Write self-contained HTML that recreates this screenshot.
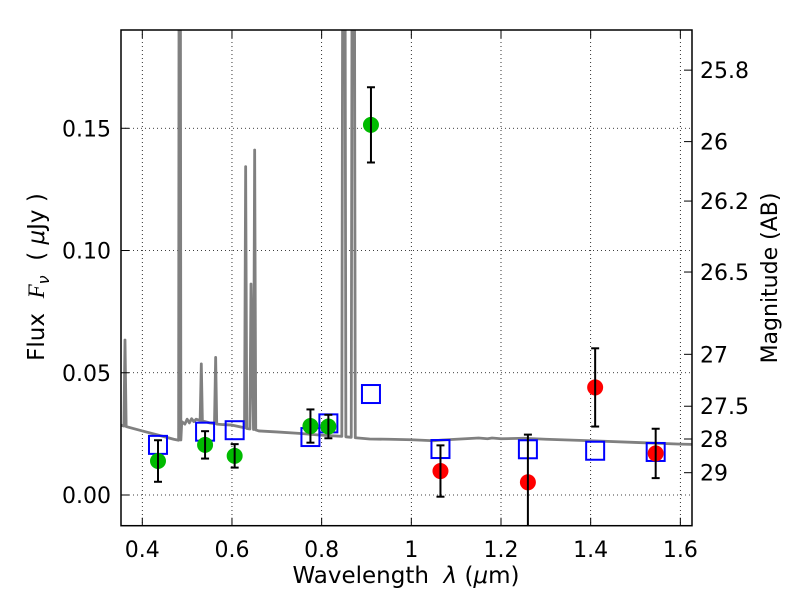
<!DOCTYPE html>
<html><head><meta charset="utf-8"><style>
body{margin:0;background:#fff;}
svg{display:block;font-family:"DejaVu Sans","Liberation Sans",sans-serif;}
</style></head><body>
<svg id="chart" width="800" height="600" viewBox="0 0 800 600" xmlns="http://www.w3.org/2000/svg"></svg>
<script>
// data
const specWave = [0.352,0.359,0.3614,0.364,0.40,0.44,0.47,0.481,0.4834,0.486,0.488,0.495,0.50,0.505,0.51,0.515,0.52,0.529,0.5316,0.534,0.54,0.55,0.561,0.5636,0.566,0.58,0.60,0.628,0.6305,0.633,0.64,0.6424,0.648,0.6506,0.653,0.66,0.70,0.75,0.797,0.845,0.8497,0.854,0.866,0.8705,0.875,0.907,0.95,1.0,1.05,1.07,1.1,1.15,1.17,1.18,1.2,1.25,1.3,1.4,1.5,1.6,1.625];
const specFlux = [0.0286,0.0282,0.0634,0.0280,0.0262,0.0243,0.0228,0.0224,0.5,0.0225,0.0300,0.0290,0.0310,0.0295,0.0312,0.0300,0.0310,0.0305,0.0536,0.0302,0.0300,0.0295,0.0292,0.0563,0.0290,0.0288,0.0286,0.0275,0.1343,0.0272,0.0270,0.0863,0.0268,0.1411,0.0266,0.0262,0.0258,0.0252,0.0245,0.0240,0.5,0.0238,0.0236,0.5,0.0234,0.0229,0.0228,0.0226,0.0222,0.0225,0.0228,0.0233,0.0230,0.0233,0.0230,0.0232,0.0228,0.0222,0.0215,0.0208,0.0207];
const greenWave = [0.435,0.540,0.606,0.775,0.815,0.910];
const greenFlux = [0.0139,0.0205,0.0160,0.0282,0.0280,0.1514];
const greenErr  = [0.0085,0.0056,0.0048,0.0068,0.0048,0.0154];
const redWave = [1.065,1.26,1.41,1.545];
const redFlux = [0.0098,0.0052,0.0440,0.0170];
const redErr  = [0.0105,0.0195,0.0160,0.0101];
const boxWave = [0.435,0.540,0.606,0.775,0.815,0.910,1.065,1.26,1.41,1.545];
const boxFlux = [0.0205,0.0259,0.0265,0.0237,0.0293,0.0413,0.0188,0.0187,0.0181,0.0176];
const xTicks = [0.4,0.6,0.8,1.0,1.2,1.4,1.6];
const xTickLabels = ["0.4","0.6","0.8","1","1.2","1.4","1.6"];
const yTicks = [0,0.05,0.10,0.15];
const yTickLabels = ["0.00","0.05","0.10","0.15"];
const magTicks = [25.8,26,26.2,26.5,27,27.5,28,29];
const magTickLabels = ["25.8","26","26.2","26.5","27","27.5","28","29"];

const L=121,R=692,T=30,B=525.7;
const X0=0.3525,X1=1.626,Y0=-0.01256,Y1=0.1902;
const sx=v=>L+(v-X0)/(X1-X0)*(R-L);
const sy=v=>B-(v-Y0)/(Y1-Y0)*(B-T);
const NS="http://www.w3.org/2000/svg";
const svg=document.getElementById('chart');
function mk(tag,attrs,parent){const e=document.createElementNS(NS,tag);for(const k in attrs)e.setAttribute(k,attrs[k]);(parent||svg).appendChild(e);return e;}

const defs=mk('defs',{});
const cp=mk('clipPath',{id:'clip'},defs);
mk('rect',{x:L,y:T,width:R-L,height:B-T},cp);

const grid=mk('g',{});


xTicks.forEach(v=>{mk('line',{x1:sx(v),x2:sx(v),y1:T,y2:B,stroke:'#000','stroke-width':0.8,'stroke-dasharray':'1,3'},grid);});
yTicks.forEach(v=>{mk('line',{x1:L,x2:R,y1:sy(v),y2:sy(v),stroke:'#000','stroke-width':0.8,'stroke-dasharray':'1,3'},grid);});

const plot=mk('g',{'clip-path':'url(#clip)'});
const sp=mk('polyline',{points:specWave.map((w,i)=>sx(w)+','+sy(specFlux[i])).join(' '),fill:'none',stroke:'#808080','stroke-width':2.8,'stroke-linejoin':'round'},plot);



boxWave.forEach((w,i)=>{
  const r=mk('rect',{x:sx(w)-9,y:sy(boxFlux[i])-9,width:18,height:18,fill:'none',stroke:'#0000ff','stroke-width':2},plot);
  
  
});
function pts(ws,fs,es,color,name){
  ws.forEach((w,i)=>{
    const g=mk('g',{},plot);
    
    
    const x=sx(w),ya=sy(fs[i]+es[i]),yb=sy(fs[i]-es[i]);
    mk('circle',{cx:x,cy:sy(fs[i]),r:8,fill:color},g);
    mk('line',{x1:x,x2:x,y1:ya,y2:yb,stroke:'#000','stroke-width':2},g);
    mk('line',{x1:x-4,x2:x+4,y1:ya,y2:ya,stroke:'#000','stroke-width':2},g);
    mk('line',{x1:x-4,x2:x+4,y1:yb,y2:yb,stroke:'#000','stroke-width':2},g);
  });
}
pts(greenWave,greenFlux,greenErr,'#00bb00','hst-data-point');
pts(redWave,redFlux,redErr,'#ff0000','ir-data-point');

const fr=mk('rect',{x:L,y:T,width:R-L,height:B-T,fill:'none',stroke:'#000','stroke-width':1.5});



xTicks.forEach((v,i)=>{
  const x=sx(v);
  mk('line',{x1:x,x2:x,y1:B,y2:B-8,stroke:'#000','stroke-width':1});
  mk('line',{x1:x,x2:x,y1:T,y2:T+8,stroke:'#000','stroke-width':1});
  const t=mk('text',{x:x,y:557,'text-anchor':'middle','font-size':22});
  t.textContent=xTickLabels[i];
  
  
});
yTicks.forEach((v,i)=>{
  const y=sy(v);
  mk('line',{x1:L,x2:L+8,y1:y,y2:y,stroke:'#000','stroke-width':1});
  const t=mk('text',{x:111,y:y+8,'text-anchor':'end','font-size':22});
  t.textContent=yTickLabels[i];
  
  
});
magTicks.forEach((m,i)=>{
  const y=sy(Math.pow(10,(23.9-m)/2.5));
  mk('line',{x1:R-8,x2:R,y1:y,y2:y,stroke:'#000','stroke-width':1});
  const t=mk('text',{x:700,y:y+8,'text-anchor':'start','font-size':22});
  t.textContent=magTickLabels[i];
  
  
});
</script>
<svg style="position:absolute;left:0;top:0" width="800" height="600" xmlns="http://www.w3.org/2000/svg" font-family="DejaVu Sans, Liberation Sans, sans-serif">
<text x="406" y="583" text-anchor="middle" font-size="23">Wavelength&#160;&#160;<tspan font-style="italic">λ</tspan> (<tspan font-style="italic">μ</tspan>m)</text>
<text transform="translate(44,277) rotate(-90)" text-anchor="middle" font-size="23">Flux&#160;&#160;<tspan font-style="italic" font-family="Liberation Serif, serif">F</tspan><tspan font-style="italic" font-size="16" dy="5">ν</tspan><tspan dy="-5">&#160;&#160;( </tspan><tspan font-style="italic">μ</tspan>Jy )</text>
<text transform="translate(777,278) rotate(-90)" text-anchor="middle" font-size="22">Magnitude (AB)</text>
</svg>
</body></html>
